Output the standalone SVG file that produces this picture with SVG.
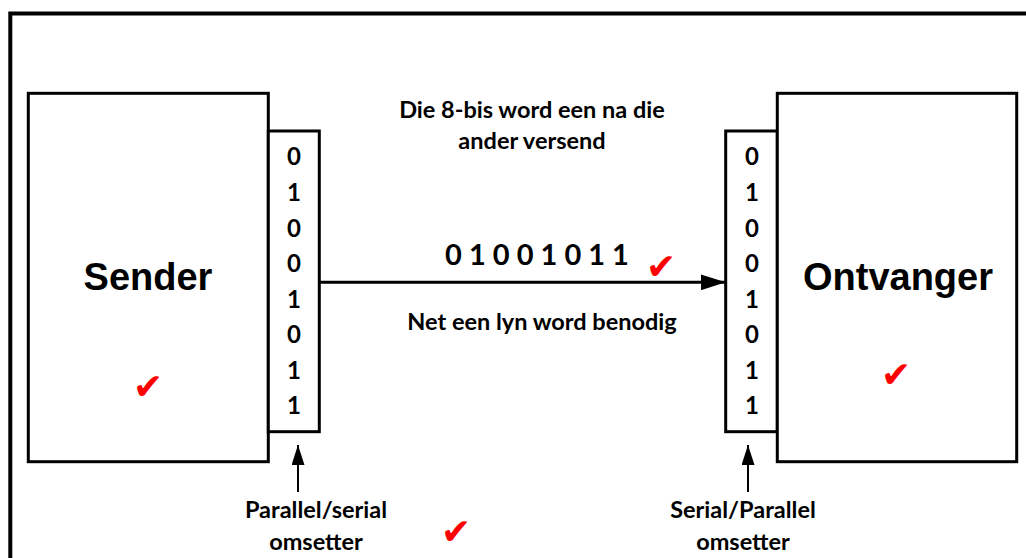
<svg xmlns="http://www.w3.org/2000/svg" width="1026" height="558" viewBox="0 0 1026 558">
<style>
.box{fill:#fff;stroke:#000;stroke-width:3}
.big{font-family:"Liberation Sans",Arial,sans-serif;font-weight:bold;font-size:38px;text-anchor:middle}
.bit{font-family:Lato,"Open Sans",sans-serif;font-weight:bold;font-size:24px;text-anchor:middle}
.lbl{font-family:Lato,"Open Sans",sans-serif;font-weight:bold;font-size:23.5px;text-anchor:middle}
.stream{font-family:Lato,"Open Sans",sans-serif;font-weight:bold;font-size:29px;text-anchor:middle}
.chk{font-family:"DejaVu Sans",sans-serif;font-size:36px;fill:#ff0000;text-anchor:middle}
.ln{stroke:#000;fill:none}
</style>
<defs>
<marker id="ah" markerWidth="25" markerHeight="16" refX="25" refY="8" orient="auto" markerUnits="userSpaceOnUse">
<path d="M0,0 L25,8 L0,16 Z" fill="#000"/>
</marker>
<marker id="ahs" markerWidth="20" markerHeight="13" refX="20" refY="6.5" orient="auto" markerUnits="userSpaceOnUse">
<path d="M0,0 L20,6.5 L0,13 Z" fill="#000"/>
</marker>
</defs>
<rect width="1026" height="558" fill="#fff"/>
<path d="M10.3,560 V13.5 H1030" fill="none" stroke="#000" stroke-width="4"/>

<g id="sender">
<rect class="box" x="28.3" y="93.3" width="240" height="368.4"/>
<text class="big" x="148" y="290">Sender</text>
<text class="chk" x="148" y="399">✔</text>
</g>

<g id="ps-converter">
<rect class="box" x="268.3" y="131" width="51" height="300.7"/>
<text class="bit" x="294" y="165">0</text>
<text class="bit" x="294" y="201">1</text>
<text class="bit" x="294" y="236.5">0</text>
<text class="bit" x="294" y="272">0</text>
<text class="bit" x="294" y="307.5">1</text>
<text class="bit" x="294" y="343">0</text>
<text class="bit" x="294" y="378.5">1</text>
<text class="bit" x="294" y="414">1</text>
</g>

<g id="sp-converter">
<rect class="box" x="725.7" y="131" width="51.6" height="300.7"/>
<text class="bit" x="752" y="165">0</text>
<text class="bit" x="752" y="201">1</text>
<text class="bit" x="752" y="236.5">0</text>
<text class="bit" x="752" y="272">0</text>
<text class="bit" x="752" y="307.5">1</text>
<text class="bit" x="752" y="343">0</text>
<text class="bit" x="752" y="378.5">1</text>
<text class="bit" x="752" y="414">1</text>
</g>

<g id="ontvanger">
<rect class="box" x="777.3" y="93.3" width="239.4" height="368.4"/>
<text class="big" x="898" y="290">Ontvanger</text>
<text class="chk" x="896" y="387">✔</text>
</g>

<g id="connectors">
<line class="ln" x1="319.3" y1="282.3" x2="725.7" y2="282.3" stroke-width="3" marker-end="url(#ah)"/>
<line class="ln" x1="298" y1="492" x2="298" y2="445" stroke-width="2" marker-end="url(#ahs)"/>
<line class="ln" x1="748" y1="492" x2="748" y2="445" stroke-width="2" marker-end="url(#ahs)"/>
</g>

<g id="labels">
<text class="lbl" x="532" y="118">Die 8-bis word een na die</text>
<text class="lbl" x="532" y="149">ander versend</text>
<text class="stream" x="537" y="265">0 1 0 0 1 0 1 1</text>
<text class="chk" x="661" y="279">✔</text>
<text class="lbl" x="542" y="330">Net een lyn word benodig</text>
<text class="lbl" x="316" y="518">Parallel/serial</text>
<text class="lbl" x="316" y="550">omsetter</text>
<text class="chk" x="456" y="544">✔</text>
<text class="lbl" x="743" y="518">Serial/Parallel</text>
<text class="lbl" x="743" y="550">omsetter</text>
</g>
</svg>
